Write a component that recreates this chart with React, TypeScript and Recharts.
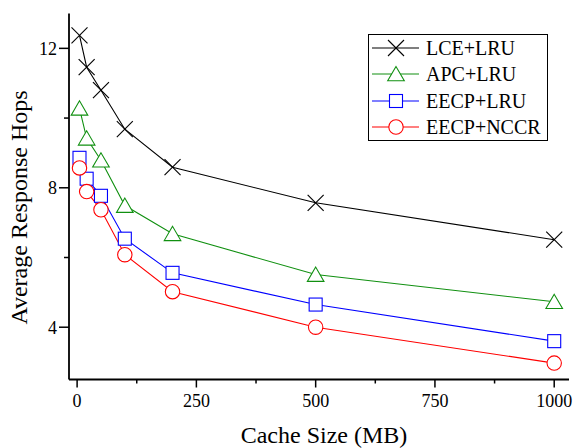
import React from 'react';
import { LineChart, Line, XAxis, YAxis, Legend, Label } from 'recharts';

// ---- data ----
const cacheSizes = [5, 20, 50, 100, 200, 500, 1000];
const lceLru = [12.37, 11.46, 10.8, 9.68, 8.59, 7.57, 6.51];
const apcLru = [10.28, 9.42, 8.79, 7.49, 6.68, 5.51, 4.73];
const eecpLru = [8.86, 8.26, 7.77, 6.54, 5.56, 4.65, 3.6];
const eecpNccr = [8.57, 7.89, 7.37, 6.08, 5.02, 4.0, 2.97];
const seriesNames = ['LCE+LRU', 'APC+LRU', 'EECP+LRU', 'EECP+NCCR'];
const xTicks = [0, 125, 250, 375, 500, 625, 750, 875, 1000];
const xMajor = [0, 250, 500, 750, 1000];
const yTicks = [4, 6, 8, 10, 12];
const yMajor = [4, 8, 12];
const xTitle = 'Cache Size (MB)';
const yTitle = 'Average Response Hops';

// ---- styles / layout (page coordinates, chart placed at 0,0) ----
const FONT = '"Liberation Serif", "Times New Roman", Times, serif';
const CHART_W = 575;
const CHART_H = 448;
const PLOT_LEFT = 69;
const PLOT_TOP = 13.5;
const PLOT_W = 500;
const PLOT_H = 366;
const PLOT_RIGHT = PLOT_LEFT + PLOT_W;
const PLOT_BOTTOM = PLOT_TOP + PLOT_H;

const seriesKeys = ['lce', 'apc', 'eecpLru', 'eecpNccr'];
const seriesColors = ['#000000', '#119011', '#0000ff', '#ff0000'];
const seriesShapes = ['cross', 'triangle', 'square', 'circle'];

const data = cacheSizes.map((size, i) => ({
  size,
  lce: lceLru[i],
  apc: apcLru[i],
  eecpLru: eecpLru[i],
  eecpNccr: eecpNccr[i],
}));

function Marker({ shape, color, cx, cy }: { shape: string; color: string; cx: number; cy: number }) {
  const sw = 1.1;
  if (shape === 'cross') {
    const r = 8;
    return (
      <g>
        <line x1={cx - r} y1={cy - r} x2={cx + r} y2={cy + r} stroke={color} strokeWidth={sw} />
        <line x1={cx - r} y1={cy + r} x2={cx + r} y2={cy - r} stroke={color} strokeWidth={sw} />
      </g>
    );
  }
  if (shape === 'triangle') {
    const pts = `${cx},${cy - 7.5} ${cx - 8.3},${cy + 6.8} ${cx + 8.3},${cy + 6.8}`;
    return <polygon points={pts} fill="#fff" stroke={color} strokeWidth={sw} />;
  }
  if (shape === 'square') {
    return <rect x={cx - 6.5} y={cy - 6.5} width={13} height={13} fill="#fff" stroke={color} strokeWidth={sw} />;
  }
  return <circle cx={cx} cy={cy} r={7.2} fill="#fff" stroke={color} strokeWidth={sw} />;
}

const makeDot = (shape: string, color: string) => (props: any) => {
  const { cx, cy, index } = props;
  if (cx == null || cy == null) return <g key={`d-${index}`} />;
  return (
    <g key={`d-${shape}-${index}`}>
      <Marker shape={shape} color={color} cx={cx} cy={cy} />
    </g>
  );
};

const tickText = { fontFamily: FONT, fontSize: 18, fill: '#000' };

const BottomTick = (props: any) => {
  const { x, payload } = props;
  const major = xMajor.includes(payload.value);
  const len = major ? 8 : 4;
  return (
    <g>
      <line x1={x} y1={PLOT_BOTTOM} x2={x} y2={PLOT_BOTTOM + len} stroke="#000" strokeWidth={1.5} />
      {major && (
        <text x={x} y={PLOT_BOTTOM + 14.5} dy="0.71em" textAnchor="middle" style={tickText}>
          {payload.value}
        </text>
      )}
    </g>
  );
};

const TopTick = (props: any) => {
  const { x, payload } = props;
  const major = xMajor.includes(payload.value);
  const len = major ? 6 : 4;
  return <line x1={x} y1={PLOT_TOP} x2={x} y2={PLOT_TOP + len} stroke="#000" strokeWidth={1.5} />;
};

const LeftTick = (props: any) => {
  const { y, payload } = props;
  const major = yMajor.includes(payload.value);
  const len = major ? 10 : 5;
  return (
    <g>
      <line x1={PLOT_LEFT - len} y1={y} x2={PLOT_LEFT} y2={y} stroke="#000" strokeWidth={1.5} />
      {major && (
        <text x={PLOT_LEFT - 12} y={y} dy="0.355em" textAnchor="end" style={tickText}>
          {payload.value}
        </text>
      )}
    </g>
  );
};

const RightTick = (props: any) => {
  const { y, payload } = props;
  const major = yMajor.includes(payload.value);
  const len = major ? 6 : 4;
  return <line x1={PLOT_RIGHT - len} y1={y} x2={PLOT_RIGHT} y2={y} stroke="#000" strokeWidth={1.5} />;
};

const renderLegend = () => (
  <div
    style={{
      border: '1px solid #000',
      background: '#fff',
      width: 178,
      padding: 0,
      fontFamily: FONT,
      boxSizing: 'content-box',
    }}
  >
    {seriesNames.map((name, i) => (
      <div key={name} style={{ display: 'flex', alignItems: 'center', height: 26.25 }}>
        <svg width={50} height={26} style={{ display: 'block' }}>
          <line x1={3} y1={13} x2={50} y2={13} stroke={seriesColors[i]} strokeWidth={1.1} />
          <Marker shape={seriesShapes[i]} color={seriesColors[i]} cx={27} cy={13} />
        </svg>
        <span style={{ fontSize: 20, marginLeft: 7, lineHeight: '26px', color: '#000', whiteSpace: 'nowrap' }}>
          {name}
        </span>
      </div>
    ))}
  </div>
);

export default function App() {
  return (
    <div style={{ position: 'fixed', left: 0, top: 0, width: CHART_W, height: CHART_H, background: '#fff' }}>
      <LineChart
        width={CHART_W}
        height={CHART_H}
        data={data}
        margin={{ top: PLOT_TOP, right: CHART_W - PLOT_RIGHT, bottom: 0, left: 0 }}
      >
        <XAxis
          xAxisId="bottom"
          dataKey="size"
          type="number"
          domain={[-17, 1031]}
          allowDataOverflow
          ticks={xTicks}
          interval={0}
          height={CHART_H - PLOT_BOTTOM}
          tickLine={false}
          tickSize={8}
          tickMargin={6}
          tick={BottomTick}
          axisLine={{ stroke: '#000', strokeWidth: 1.8 }}
        >
          <Label
            content={() => (
              <text
                x={324}
                y={443}
                textAnchor="middle"
                style={{ fontFamily: FONT, fontSize: 24, fill: '#000' }}
              >
                {xTitle}
              </text>
            )}
          />
        </XAxis>
        <XAxis
          xAxisId="top"
          orientation="top"
          mirror
          type="number"
          dataKey="size"
          domain={[-17, 1031]}
          allowDataOverflow
          ticks={xTicks}
          interval={0}
          height={0}
          tickLine={false}
          tickSize={0}
          tickMargin={0}
          tick={TopTick}
          axisLine={{ stroke: '#000', strokeWidth: 1.8 }}
        />
        <YAxis
          yAxisId="left"
          type="number"
          domain={[2.5, 13]}
          allowDataOverflow
          ticks={yTicks}
          interval={0}
          width={PLOT_LEFT}
          tickLine={false}
          tickSize={10}
          tickMargin={2}
          tick={LeftTick}
          axisLine={{ stroke: '#000', strokeWidth: 1.8 }}
        >
          <Label
            content={() => (
              <text
                x={27}
                y={207.5}
                textAnchor="middle"
                transform={`rotate(-90, 27, 207.5)`}
                style={{ fontFamily: FONT, fontSize: 24, fill: '#000' }}
              >
                {yTitle}
              </text>
            )}
          />
        </YAxis>
        <YAxis
          yAxisId="right"
          orientation="right"
          mirror
          type="number"
          domain={[2.5, 13]}
          allowDataOverflow
          ticks={yTicks}
          interval={0}
          width={0}
          tickLine={false}
          tickSize={0}
          tickMargin={0}
          tick={RightTick}
          axisLine={{ stroke: '#000', strokeWidth: 1.8 }}
        />
        <Legend
          layout="horizontal"
          verticalAlign="middle"
          align="center"
          content={renderLegend}
          wrapperStyle={{ left: 368, top: 34, width: 'auto', height: 'auto' }}
        />
        {seriesKeys.map((k, i) => (
          <Line
            key={k}
            xAxisId="bottom"
            yAxisId="left"
            type="linear"
            dataKey={k}
            name={seriesNames[i]}
            stroke={seriesColors[i]}
            strokeWidth={1.1}
            dot={makeDot(seriesShapes[i], seriesColors[i])}
            activeDot={false}
            isAnimationActive={false}
          />
        ))}
      </LineChart>
    </div>
  );
}
